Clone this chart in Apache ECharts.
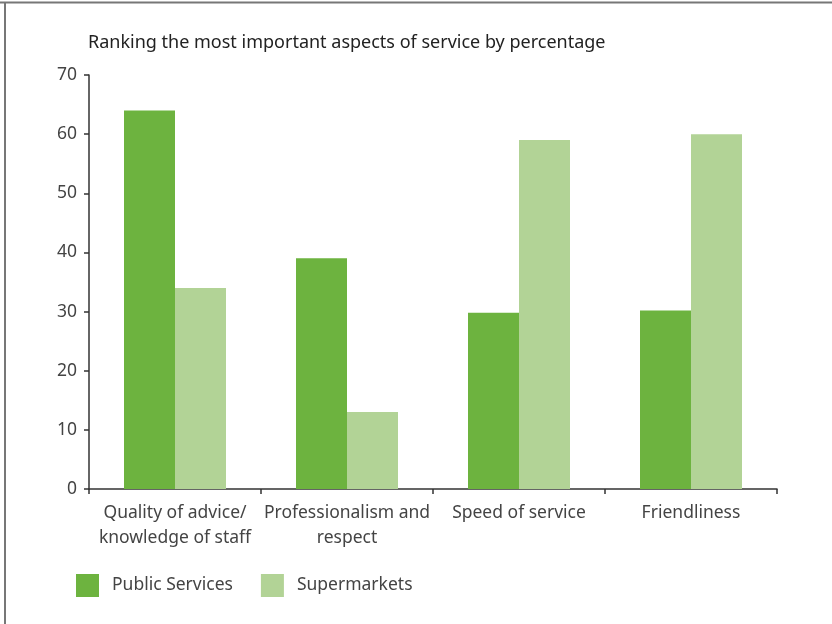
<!DOCTYPE html>
<html>
<head>
<meta charset="utf-8">
<script src="https://cdn.jsdelivr.net/npm/echarts@6/dist/echarts.min.js"></script>
<style>
  html, body { margin: 0; padding: 0; background: #fff; }
  #chart { width: 832px; height: 624px; }
</style>
</head>
<body>
<div id="chart"></div>
<script>
// Survey results: share of respondents naming each aspect of service as most important
const categories = ['Quality of advice/\nknowledge of staff', 'Professionalism and\nrespect', 'Speed of service', 'Friendliness'];
const publicServices = [64, 39, 29.8, 30.2];
const supermarkets = [34, 13, 59, 60];
const yTicks = [0, 10, 20, 30, 40, 50, 60, 70];

const textColor = '#444';
const axisColor = '#333';
const fontFamily = '"Noto Sans", "Open Sans", sans-serif';

const chart = echarts.init(document.getElementById('chart'));
chart.setOption({
  animation: false,
  textStyle: { fontFamily: fontFamily },
  title: {
    text: 'Ranking the most important aspects of service by percentage',
    left: 83,
    top: 29,
    textStyle: { fontSize: 18, fontWeight: 'normal', color: '#222', fontFamily: fontFamily }
  },
  graphic: [
    { type: 'line', shape: { x1: 0, y1: 2.5, x2: 832, y2: 2.5 }, style: { stroke: '#777', lineWidth: 2 } },
    { type: 'line', shape: { x1: 5, y1: 2, x2: 5, y2: 624 }, style: { stroke: '#777', lineWidth: 2 } }
  ],
  legend: {
    left: 76,
    top: 574,
    padding: 0,
    itemWidth: 23,
    itemHeight: 23,
    itemGap: 28,
    icon: 'rect',
    textStyle: { fontSize: 17.5, color: textColor, padding: [0, 0, 0, 8] },
    data: ['Public Services', 'Supermarkets']
  },
  grid: { left: 89, right: 55, top: 75, bottom: 135 },
  xAxis: {
    type: 'category',
    data: categories,
    axisLine: { lineStyle: { color: axisColor, width: 1.5 } },
    axisTick: { show: true, length: 5, lineStyle: { color: axisColor, width: 1.5 } },
    axisLabel: { fontSize: 17.5, color: textColor, lineHeight: 25, margin: 12, interval: 0 }
  },
  yAxis: {
    type: 'value',
    min: yTicks[0],
    max: yTicks[yTicks.length - 1],
    interval: yTicks[1] - yTicks[0],
    axisLine: { show: true, lineStyle: { color: axisColor, width: 1.5 } },
    axisTick: { show: true, length: 5, lineStyle: { color: axisColor, width: 1.5 } },
    axisLabel: { fontSize: 17.5, color: textColor, margin: 12 },
    splitLine: { show: false }
  },
  series: [
    {
      name: 'Public Services',
      type: 'bar',
      data: publicServices,
      barWidth: 51,
      barGap: '0%',
      itemStyle: { color: '#6db33f' }
    },
    {
      name: 'Supermarkets',
      type: 'bar',
      data: supermarkets,
      barWidth: 51,
      barGap: '0%',
      itemStyle: { color: '#b2d396' }
    }
  ]
});
</script>
</body>
</html>
